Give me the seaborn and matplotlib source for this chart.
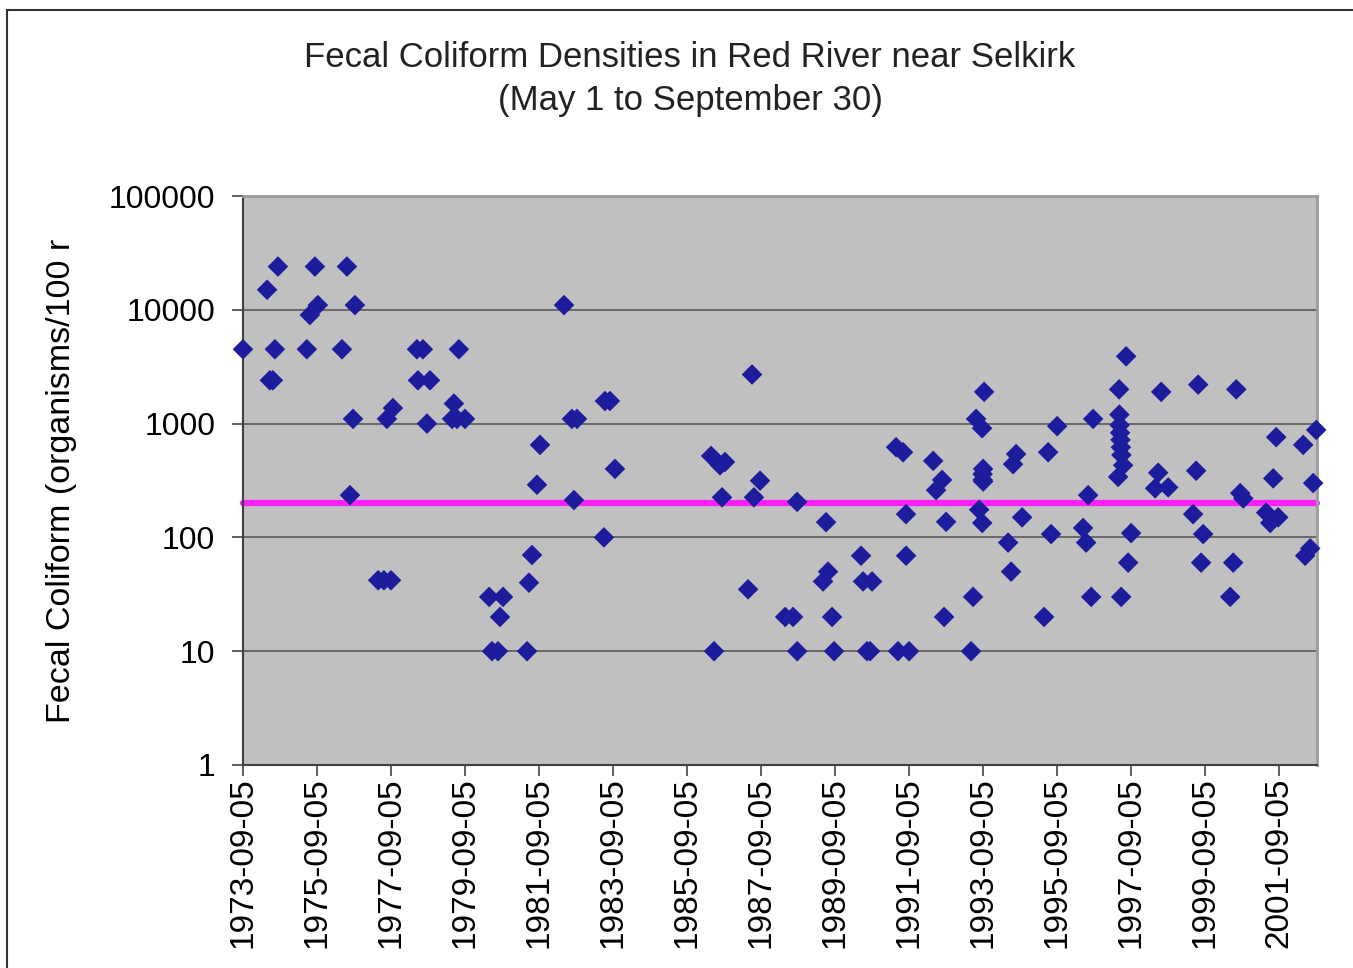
import pandas as pd
import numpy as np
import matplotlib
matplotlib.use("Agg")
import matplotlib.pyplot as plt
import seaborn as sns
from matplotlib.ticker import NullLocator

# Fechas de muestreo y densidades
fechas = [
    "1973-09-05",
    "1974-05-01", "1974-05-28", "1974-06-27", "1974-07-17", "1974-08-16",
    "1975-05-28", "1975-06-27", "1975-08-16", "1975-09-14",
    "1976-05-09", "1976-06-27", "1976-07-27", "1976-08-26", "1976-09-14",
    "1977-05-01", "1977-06-27", "1977-07-27", "1977-09-05", "1977-09-24",
    "1978-05-19", "1978-05-29", "1978-07-17", "1978-08-26", "1978-09-25",
    "1979-05-01", "1979-05-19", "1979-06-18", "1979-07-07", "1979-09-05",
    "1980-05-01", "1980-05-29", "1980-07-27", "1980-08-16", "1980-09-15",
    "1981-05-10", "1981-05-29", "1981-06-28", "1981-08-16", "1981-09-15",
    "1982-05-10", "1982-07-27", "1982-08-16", "1982-09-15",
    "1983-06-08", "1983-06-18", "1983-08-06", "1983-09-25",
    "1986-05-01", "1986-05-30", "1986-07-28", "1986-08-17", "1986-09-15",
    "1987-05-01", "1987-06-09", "1987-06-28", "1987-08-27",
    "1988-05-01", "1988-07-18", "1988-08-27", "1988-08-28",
    "1989-05-10", "1989-06-09", "1989-06-28", "1989-08-07", "1989-08-27",
    "1990-05-20", "1990-06-09", "1990-07-18", "1990-08-17", "1990-09-06",
    "1991-05-01", "1991-05-20", "1991-07-09", "1991-08-07", "1991-08-08", "1991-09-06",
    "1992-05-01", "1992-05-30", "1992-07-28", "1992-08-17", "1992-09-06",
    "1993-05-10", "1993-05-30", "1993-06-29", "1993-07-29",
    "1993-08-27", "1993-08-28", "1993-09-01", "1993-09-02", "1993-09-06",
    "1993-09-07", "1993-09-16",
    "1994-05-11", "1994-06-09", "1994-06-29", "1994-07-29", "1994-09-26",
    "1995-05-01", "1995-06-10", "1995-07-09", "1995-09-07",
    "1996-05-20", "1996-06-19", "1996-07-09", "1996-08-08", "1996-08-27",
    "1997-05-01", "1997-05-11", "1997-05-13", "1997-05-16", "1997-05-20",
    "1997-05-24", "1997-05-28", "1997-05-31", "1997-06-02", "1997-06-19",
    "1997-07-19", "1997-08-08", "1997-09-06",
    "1998-05-01", "1998-05-31", "1998-06-30", "1998-09-07",
    "1999-05-11", "1999-06-10", "1999-06-30", "1999-07-29", "1999-08-18",
    "2000-05-11", "2000-06-10", "2000-07-10", "2000-08-18", "2000-09-17",
    "2001-05-01", "2001-06-10", "2001-07-10", "2001-08-08", "2001-08-28",
    "2002-05-02", "2002-05-21", "2002-07-10", "2002-08-08", "2002-09-07",
]
coliformes = [
    4500,
    15000, 2400, 2400, 4500, 24000,
    4500, 9000, 24000, 11000,
    4500, 24000, 235, 1100, 11000,
    42, 42, 1100, 42, 1370,
    4500, 2400, 4500, 1000, 2400,
    1100, 1500, 1100, 4500, 1100,
    30, 10, 10, 20, 30,
    10, 40, 70, 290, 650,
    11000, 1100, 213, 1100,
    100, 1580, 1580, 400,
    520, 10, 430, 225, 460,
    35, 2700, 225, 315,
    20, 20, 205, 10,
    41, 136, 50, 20, 10,
    69, 41, 10, 10, 41,
    620, 10, 560, 160, 69, 10,
    470, 260, 320, 20, 137,
    10, 30, 1100, 175,
    910, 134, 360, 320, 400,
    310, 1900,
    90, 50, 440, 540, 150,
    20, 560, 107, 950,
    121, 90, 235, 30, 1100,
    340, 2000, 1200, 970, 830,
    720, 620, 30, 530, 430,
    3900, 60, 109,
    270, 370, 1900, 275,
    160, 385, 2200, 60, 107,
    30, 60, 2000, 245, 220,
    165, 134, 330, 760, 150,
    650, 69, 80, 300, 880,
]

ticks_x = ["1973-09-05", "1975-09-05", "1977-09-05", "1979-09-05", "1981-09-05",
           "1983-09-05", "1985-09-05", "1987-09-05", "1989-09-05", "1991-09-05",
           "1993-09-05", "1995-09-05", "1997-09-05", "1999-09-05", "2001-09-05"]
ticks_y = [1, 10, 100, 1000, 10000, 100000]
norma = 200  # objetivo 200 org/100 mL

df = pd.DataFrame({"fecha": pd.to_datetime(fechas), "coliform": coliformes})

plt.rcParams["font.family"] = ["Liberation Sans", "DejaVu Sans"]

W, H = 1353, 968
fig = plt.figure(figsize=(W / 100, H / 100), dpi=100)
ax = fig.add_axes([243 / W, 1 - 765 / H, 1074 / W, 569 / H])
ax.set_facecolor("#C0C0C0")
ax.set_yscale("log")

# lineas de la grilla
for v in ticks_y[1:-1]:
    ax.axhline(v, color="#5a5a5a", lw=1.2, zorder=1)

ax.axhline(norma, color="#FF1FFF", lw=4.5, solid_capstyle="round", zorder=2, clip_on=False)

sns.scatterplot(data=df, x="fecha", y="coliform", marker="D", s=110, color="#1C1C9C",
                edgecolor="none", linewidth=0, ax=ax, zorder=3, clip_on=False, legend=False)

ax.set_ylim(1, 100000)
ax.set_xlim(pd.Timestamp("1973-09-05"), pd.Timestamp("2002-09-15"))

ax.set_xticks(pd.to_datetime(ticks_x))
ax.set_xticklabels(ticks_x, rotation=90)
ax.set_yticks(ticks_y)
ax.set_yticklabels([str(v) for v in ticks_y])
ax.yaxis.set_minor_locator(NullLocator())
ax.xaxis.set_minor_locator(NullLocator())
ax.tick_params(axis="x", length=8, width=1.2, color="#444444", pad=1, labelsize=24)
ax.tick_params(axis="y", length=8, width=1.2, color="#444444", pad=12, labelsize=23)
ax.set_xlabel("")
ax.set_ylabel("")

for lado in ["left", "bottom"]:
    ax.spines[lado].set_color("#404040")
    ax.spines[lado].set_linewidth(1.5)
for lado in ["top", "right"]:
    ax.spines[lado].set_color("#9a9a9a")
    ax.spines[lado].set_linewidth(2)

fig.text(62 / W, 1 - 481 / H, "Fecal Coliform (organisms/100 r", rotation=90,
         ha="center", va="center", fontsize=24.5)
fig.text(690 / W, 1 - 79 / H, "Fecal Coliform Densities in Red River near Selkirk\n(May 1 to September 30)",
         ha="center", va="center", fontsize=25, linespacing=1.4, color="#222222")

# borde exterior del grafico
borde = plt.Rectangle((7 / W, -0.05), 1.2, 1.05 - 10 / H, transform=fig.transFigure,
                      fill=False, edgecolor="#333333", lw=1.5, clip_on=False)
fig.add_artist(borde)

fig.savefig("out.png", dpi=100)
